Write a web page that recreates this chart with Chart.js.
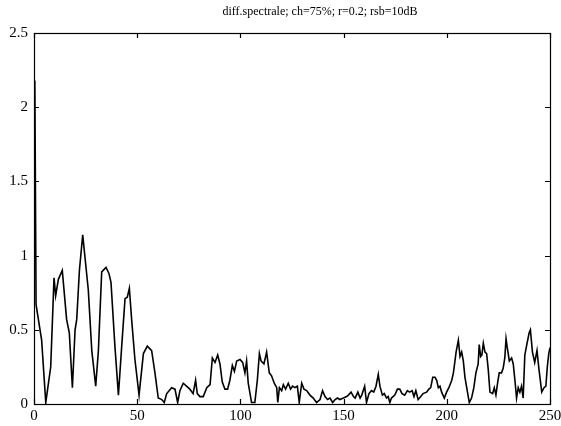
<!DOCTYPE html>
<html>
<head>
<meta charset="utf-8">
<script src="https://cdn.jsdelivr.net/npm/chart.js@4/dist/chart.umd.min.js"></script>
<style>
  html, body { margin: 0; padding: 0; background: #fff; }
  #wrap { width: 561px; height: 426px; }
</style>
</head>
<body>
<div id="wrap"><canvas id="chart_diff"></canvas></div>
<script>
// values
let xValues = [0, 0.4, 1, 3.7, 5.7, 8.1, 9.7, 10.5, 11.8, 13.7, 15.8, 17.1, 18.6, 19.9, 20.7, 22, 23.6, 26.3, 28, 29.9,
  31.2, 32.8, 34.9, 36.3, 37.3, 39.2, 40.9, 42.5, 44.1, 45.2, 46.2, 47.3, 48.9, 50.9, 53, 54.9, 57, 58.6, 60.2, 61.9,
  63.1, 64.3, 66.7, 68.3, 69.6, 70.7, 72.3, 73.9, 75.5, 77.1, 78.3, 79.1, 80.4, 82, 83.7, 85.3, 86.4, 87.7, 89, 90.1,
  91.2, 92.5, 93.8, 94.9, 96.1, 97.1, 98.2, 99.8, 101.1, 102.2, 103, 103.8, 105.4, 107, 108.2, 109.2, 110, 111.4, 112.7, 114,
  115.1, 116.4, 117.6, 118.1, 118.9, 120, 120.8, 121.9, 123.2, 124.3, 125.3, 126.4, 127.6, 128.5, 129.7, 130.8, 132.1, 133.7, 135.3, 136.9,
  138.6, 139.8, 141, 142.2, 143.4, 144.7, 145.9, 147, 148.2, 149.9, 151.5, 152.3, 153.6, 154.8, 155.6, 156.9, 158, 158.8, 160.2, 161.1,
  162.3, 163.5, 164.6, 165.7, 166.8, 167.6, 168.8, 169.7, 170.8, 171.6, 172.4, 173.2, 174.8, 176.1, 177.2, 178.3, 179.6, 180.9, 182, 183.2,
  184.1, 185, 186.1, 187.4, 188.5, 190.2, 191.3, 192.2, 193.2, 194.3, 195.1, 195.9, 196.7, 197.5, 198.8, 199.9, 201, 202.4, 203.2, 204.5,
  205.6, 206.4, 207.2, 208, 208.8, 209.9, 210.9, 212, 213.1, 214.1, 215.2, 215.7, 216.4, 217, 217.7, 218.5, 219.3, 220.1, 220.9, 222.2,
  223, 223.8, 224.6, 225.4, 226.5, 227.3, 228.1, 228.7, 229.3, 230.3, 231.4, 232.2, 233, 233.8, 234.6, 235.4, 236.2, 237, 237.8, 238.9,
  239.9, 240.5, 241.5, 242.6, 243.7, 244.6, 246, 247.1, 248, 248.7, 249.4, 250]
let yValues = [2.0, 2.18, 0.67, 0.43, 0.01, 0.25, 0.85, 0.73, 0.84, 0.9, 0.57, 0.48, 0.11, 0.5, 0.57, 0.9, 1.14, 0.77, 0.36, 0.12,
  0.36, 0.89, 0.92, 0.88, 0.82, 0.39, 0.06, 0.39, 0.71, 0.72, 0.78, 0.57, 0.3, 0.06, 0.34, 0.39, 0.36, 0.21, 0.04, 0.03,
  0.01, 0.07, 0.11, 0.1, 0.01, 0.09, 0.14, 0.12, 0.1, 0.07, 0.16, 0.07, 0.05, 0.05, 0.11, 0.13, 0.31, 0.28, 0.33, 0.27,
  0.15, 0.1, 0.1, 0.16, 0.26, 0.22, 0.29, 0.3, 0.28, 0.21, 0.29, 0.14, 0.01, 0.01, 0.16, 0.34, 0.29, 0.27, 0.35, 0.21,
  0.19, 0.14, 0.11, 0.01, 0.11, 0.09, 0.13, 0.1, 0.14, 0.1, 0.12, 0.11, 0.12, 0.01, 0.14, 0.1, 0.09, 0.06, 0.04, 0.01,
  0.03, 0.09, 0.05, 0.03, 0.04, 0.01, 0.03, 0.04, 0.03, 0.04, 0.05, 0.06, 0.08, 0.05, 0.04, 0.08, 0.04, 0.06, 0.12, 0.01,
  0.07, 0.09, 0.08, 0.12, 0.2, 0.12, 0.06, 0.07, 0.04, 0.05, 0.01, 0.04, 0.06, 0.1, 0.1, 0.07, 0.06, 0.09, 0.08, 0.09,
  0.05, 0.09, 0.03, 0.05, 0.07, 0.08, 0.1, 0.11, 0.18, 0.18, 0.16, 0.11, 0.12, 0.08, 0.04, 0.08, 0.11, 0.16, 0.21, 0.35,
  0.43, 0.32, 0.35, 0.29, 0.18, 0.09, 0.01, 0.04, 0.11, 0.21, 0.27, 0.4, 0.32, 0.33, 0.41, 0.35, 0.34, 0.23, 0.08, 0.07,
  0.11, 0.06, 0.14, 0.21, 0.21, 0.24, 0.31, 0.44, 0.38, 0.29, 0.31, 0.27, 0.16, 0.04, 0.11, 0.08, 0.12, 0.04, 0.33, 0.41,
  0.48, 0.5, 0.35, 0.28, 0.36, 0.24, 0.08, 0.11, 0.12, 0.25, 0.34, 0.38]

let xTicks = [0, 50, 100, 150, 200, 250]
let xTickLabels = ['0', '50', '100', '150', '200', '250']
let yTicks = [0, 0.5, 1, 1.5, 2, 2.5]
let yTickLabels = ['0', '0.5', '1', '1.5', '2', '2.5']
let titleText = 'diff.spectrale; ch=75%; r=0.2; rsb=10dB'

let points = xValues.map((x, i) => ({x: x, y: yValues[i]}))

// matlab style box with ticks pointing inside, plus the title
const boxTicks = {
    id: 'boxTicks',
    afterDraw(chart){
        const {ctx, chartArea: a, scales} = chart
        ctx.save()
        ctx.strokeStyle = '#000'
        ctx.lineWidth = 1.2
        ctx.strokeRect(a.left + 0.5, a.top + 0.5, a.right - a.left, a.bottom - a.top)
        ctx.beginPath()
        xTicks.forEach(v => {
            let px = Math.round(scales.x.getPixelForValue(v)) + 0.5
            ctx.moveTo(px, a.bottom); ctx.lineTo(px, a.bottom - 5)
            ctx.moveTo(px, a.top); ctx.lineTo(px, a.top + 5)
        })
        yTicks.forEach(v => {
            let py = Math.round(scales.y.getPixelForValue(v)) + 0.5
            ctx.moveTo(a.left, py); ctx.lineTo(a.left + 5, py)
            ctx.moveTo(a.right, py); ctx.lineTo(a.right - 5, py)
        })
        ctx.stroke()

        // title sits a bit right of the axes centre in the scan
        ctx.fillStyle = '#000'
        ctx.font = '12px "Liberation Serif"'
        ctx.textAlign = 'center'
        ctx.textBaseline = 'middle'
        ctx.fillText(titleText, (a.left + a.right) / 2 + 28, 12)
        ctx.restore()
    }
}

const tickFont = {family: 'Liberation Serif', size: 15}

new Chart(document.getElementById('chart_diff'), {
    type: 'line',
    data: {
        datasets: [{
            data: points,
            borderColor: '#000',
            borderWidth: 1.6,
            pointRadius: 0,
            tension: 0,
            fill: false
        }]
    },
    options: {
        responsive: true,
        maintainAspectRatio: false,
        animation: false,
        layout: { padding: {left: 0, right: 0, top: 33, bottom: 0} },
        plugins: {
            legend: { display: false },
            tooltip: { enabled: false },
            title: { display: false }
        },
        scales: {
            x: {
                type: 'linear',
                min: 0,
                max: 250,
                afterFit: s => { s.height = 22; s.paddingLeft = 0; s.paddingRight = 11 },
                afterBuildTicks: s => { s.ticks = xTicks.map(v => ({value: v})) },
                grid: { display: false, drawTicks: false },
                border: { display: false },
                ticks: {
                    color: '#000',
                    font: tickFont,
                    padding: 3,
                    maxRotation: 0,
                    callback: (v, i) => xTickLabels[i]
                }
            },
            y: {
                min: 0,
                max: 2.5,
                afterFit: s => { s.width = 34 },
                afterBuildTicks: s => { s.ticks = yTicks.map(v => ({value: v})) },
                grid: { display: false, drawTicks: false },
                border: { display: false },
                ticks: {
                    color: '#000',
                    font: tickFont,
                    padding: 6,
                    callback: (v, i) => yTickLabels[i]
                }
            }
        }
    },
    plugins: [boxTicks]
})
</script>
</body>
</html>
